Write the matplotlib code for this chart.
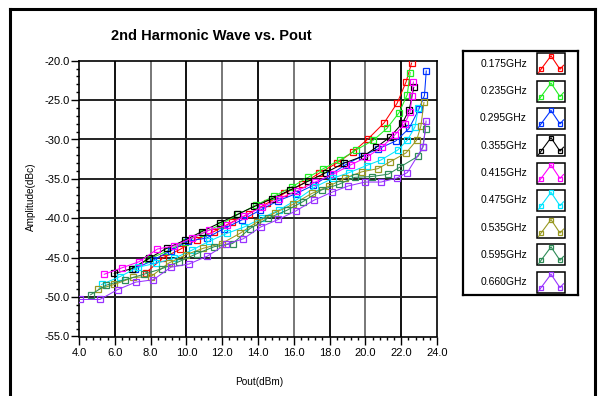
import matplotlib
matplotlib.use("Agg")
import matplotlib.pyplot as plt
from matplotlib.ticker import MultipleLocator, FormatStrFormatter
from matplotlib.lines import Line2D
from matplotlib.patches import Rectangle

plt.rcParams['font.family'] = ['Liberation Sans', 'DejaVu Sans']

# ------------- data -------------
FREQ_LABELS = ["0.175GHz", "0.235GHz", "0.295GHz", "0.355GHz", "0.415GHz",
               "0.475GHz", "0.535GHz", "0.595GHz", "0.660GHz"]
COLORS = ["#ff0000", "#22ee22", "#0033ff", "#000000", "#ff00ff",
          "#00e5ff", "#999922", "#2e8b57", "#9933ff"]

P_175 = [7.74, 8.71, 9.64, 10.58, 11.53, 12.53, 13.5, 14.5, 15.47, 16.44, 17.4, 18.4, 19.29, 20.16, 21.04, 21.77, 22.27, 22.58]
A_175 = [-46.9, -45.0, -43.95, -42.7, -41.7, -40.5, -39.4, -38.1, -36.85, -35.7, -34.3, -33.0, -31.6, -29.9, -27.9, -25.4, -22.7, -20.3]

P_235 = [7.03, 7.87, 8.9, 9.9, 10.9, 11.9, 12.9, 13.9, 14.9, 15.9, 16.8, 17.65, 18.58, 19.5, 20.44, 21.2, 21.88, 22.34, 22.5]
A_235 = [-46.4, -45.2, -44.2, -43.0, -41.9, -40.8, -39.5, -38.3, -37.2, -36.0, -34.8, -33.7, -32.6, -31.3, -30.1, -28.6, -26.6, -24.3, -21.5]

P_295 = [7.13, 8.15, 9.14, 10.1, 11.13, 12.1, 13.1, 14.1, 15.1, 16.1, 17.1, 18.0, 18.9, 19.8, 20.7, 21.69, 22.44, 23.0, 23.3, 23.4]
A_295 = [-46.4, -45.3, -44.1, -42.9, -42.5, -41.3, -40.2, -39.0, -37.8, -36.9, -35.8, -34.5, -33.2, -32.1, -31.2, -30.2, -28.6, -26.1, -24.4, -21.3]

P_355 = [5.97, 6.94, 7.9, 8.9, 9.9, 10.85, 11.85, 12.85, 13.8, 14.8, 15.8, 16.8, 17.8, 18.8, 19.9, 20.6, 21.37, 22.06, 22.45, 22.7]
A_355 = [-47.0, -46.4, -45.1, -43.8, -42.8, -41.7, -40.6, -39.5, -38.5, -37.5, -36.4, -35.3, -34.2, -33.0, -32.1, -31.0, -29.7, -27.96, -26.2, -23.4]

P_415 = [5.41, 6.38, 7.37, 8.38, 9.33, 10.3, 11.28, 12.28, 13.23, 14.2, 15.2, 16.2, 17.2, 18.2, 19.2, 20.1, 20.9, 21.65, 22.2, 22.5, 22.6, 22.68]
A_415 = [-47.1, -46.3, -45.5, -43.9, -43.5, -42.5, -41.5, -40.9, -39.7, -38.6, -37.5, -36.5, -35.4, -34.4, -33.2, -32.2, -31.0, -29.4, -28.0, -26.5, -24.5, -22.7]

P_475 = [5.26, 6.29, 7.31, 8.3, 9.3, 10.3, 11.28, 12.28, 13.23, 14.2, 15.2, 16.2, 17.2, 18.2, 19.1, 20.07, 20.87, 21.8, 22.34, 22.77, 22.96]
A_475 = [-48.4, -47.4, -46.2, -45.7, -45.1, -44.05, -42.9, -41.9, -41.1, -40.0, -38.9, -37.6, -36.0, -34.9, -34.2, -33.3, -32.6, -31.35, -30.1, -28.4, -26.0]

P_535 = [5.08, 5.97, 7.03, 8.02, 9.0, 10.0, 10.95, 11.97, 13.0, 13.93, 14.95, 15.97, 17.0, 17.98, 18.86, 19.8, 20.7, 21.4, 22.27, 22.86, 23.1, 23.27]
A_535 = [-49.0, -48.4, -47.5, -47.4, -45.7, -44.6, -43.8, -43.2, -41.9, -40.5, -39.3, -38.2, -36.85, -35.9, -34.9, -34.1, -33.7, -32.8, -31.7, -30.1, -28.3, -25.3]

P_595 = [4.65, 5.5, 6.57, 7.63, 8.62, 9.59, 10.57, 11.56, 12.58, 13.55, 14.54, 15.6, 16.5, 17.55, 18.5, 19.4, 20.35, 21.28, 21.93, 22.96, 23.2, 23.36]
A_595 = [-49.7, -48.5, -47.8, -47.1, -46.4, -45.5, -44.5, -43.6, -43.2, -41.3, -40.0, -39.0, -37.9, -36.4, -35.7, -34.8, -34.7, -34.4, -33.5, -32.1, -31.0, -28.7]

P_660 = [4.06, 5.17, 6.16, 7.17, 8.15, 9.14, 10.15, 11.17, 12.21, 13.18, 14.15, 15.13, 16.12, 17.13, 18.12, 19.04, 19.98, 20.87, 21.75, 22.34, 23.23, 23.39]
A_660 = [-50.3, -50.3, -49.05, -48.1, -47.8, -46.2, -45.8, -44.8, -43.3, -42.6, -41.1, -40.15, -39.06, -37.7, -36.7, -35.9, -35.4, -35.4, -34.9, -34.2, -30.9, -27.66]

SERIES = [(P_175, A_175), (P_235, A_235), (P_295, A_295), (P_355, A_355), (P_415, A_415),
          (P_475, A_475), (P_535, A_535), (P_595, A_595), (P_660, A_660)]

X_MIN, X_MAX = 4.0, 24.0
Y_MIN, Y_MAX = -55.0, -20.0

W, H = 602, 396
fig = plt.figure(figsize=(W / 100, H / 100), dpi=100)
fig.patch.set_facecolor("white")


def fx(px):
    return px / W


def fy(py):
    return 1 - py / H


# main plot area
ax = fig.add_axes([fx(79), fy(336.5), (437 - 79) / W, (336.5 - 60.7) / H])
ax.set_xlim(X_MIN, X_MAX)
ax.set_ylim(Y_MIN, Y_MAX)

# grid: vertical lines alternate black / gray like the original
for i, xv in enumerate(range(6, 24, 2)):
    ax.axvline(xv, color="#111111" if i % 2 == 0 else "#777777", lw=1.4, zorder=1)
for yv in range(-50, -20, 5):
    ax.axhline(yv, color="#222222", lw=1.4, zorder=1)

for (p, a), col in zip(SERIES, COLORS):
    ax.plot(p, a, color=col, lw=0.75, marker="s", ms=4.5, mfc="none", mec=col, mew=0.9, zorder=3)

for sp in ax.spines.values():
    sp.set_color("black")
    sp.set_linewidth(1.2)

ax.xaxis.set_major_locator(MultipleLocator(2))
ax.xaxis.set_minor_locator(MultipleLocator(0.4))
ax.yaxis.set_major_locator(MultipleLocator(5))
ax.yaxis.set_minor_locator(MultipleLocator(1))
ax.xaxis.set_major_formatter(FormatStrFormatter("%.1f"))
ax.yaxis.set_major_formatter(FormatStrFormatter("%.1f"))
ax.tick_params(axis="both", which="major", direction="out", length=5.5, width=1, labelsize=8, color="black")
ax.tick_params(axis="both", which="minor", direction="out", length=2.5, width=1, color="black")
ax.tick_params(axis="x", which="major", pad=3)
ax.tick_params(axis="y", which="major", pad=1)

fig.text(fx(111), fy(36), "2nd Harmonic Wave vs. Pout", fontsize=10.5, fontweight="bold",
         ha="left", va="center")
fig.text(fx(31), fy(197), "Amplitude(dBc)", fontsize=7.2, rotation=90, ha="center", va="center")
fig.text(fx(259), fy(382), "Pout(dBm)", fontsize=7.2, ha="center", va="center")

# legend box drawn by hand (text + small icon per series)
lax = fig.add_axes([fx(463), fy(295), (578 - 463) / W, (295 - 51) / H])
lax.set_xlim(463, 578)
lax.set_ylim(295, 51)
lax.set_xticks([])
lax.set_yticks([])
for sp in lax.spines.values():
    sp.set_linewidth(1.6)
    sp.set_color("black")
for i, (lab, col) in enumerate(zip(FREQ_LABELS, COLORS)):
    yc = 63.8 + i * 27.3
    lax.text(527, yc, lab, fontsize=7.5, ha="right", va="center")
    lax.add_patch(Rectangle((537, yc - 10.5), 28, 21, facecolor="white", edgecolor="black", lw=1.1))
    lax.plot([538.5, 541, 551, 560, 563.5], [yc + 9, yc + 5.5, yc - 8, yc + 5.5, yc + 1.5],
             color=col, lw=0.8)
    lax.plot([541, 551, 560], [yc + 5.5, yc - 8, yc + 5.5], ls="none", marker="s", ms=3.2,
             mfc="none", mec=col, mew=0.9)

# outer frame (left, top, right)
frame_kw = dict(color="black", lw=2.2, transform=fig.transFigure)
fig.add_artist(Line2D([fx(10), fx(10)], [0, fy(9)], **frame_kw))
fig.add_artist(Line2D([fx(10), fx(595)], [fy(9), fy(9)], **frame_kw))
fig.add_artist(Line2D([fx(595), fx(595)], [fy(9), 0], **frame_kw))

fig.savefig("out.png", dpi=100)
